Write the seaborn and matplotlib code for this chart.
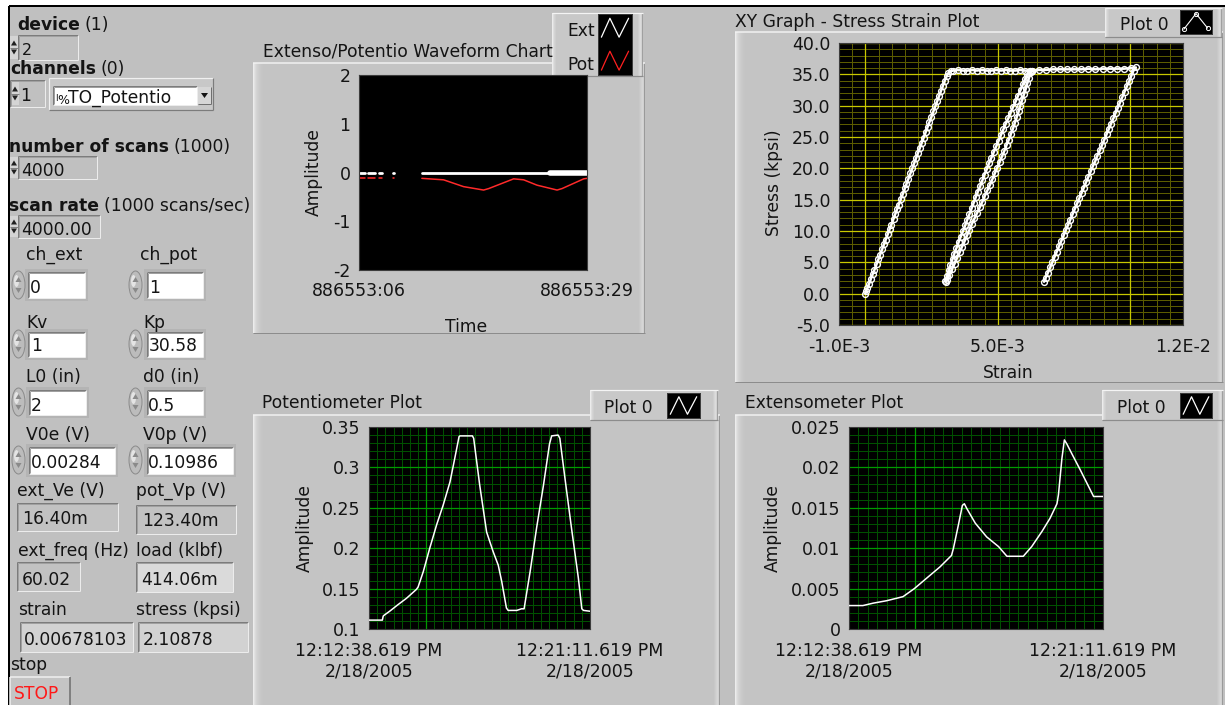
import numpy as np
import pandas as pd
import matplotlib
matplotlib.use("Agg")
import matplotlib.pyplot as plt
from matplotlib.patches import Rectangle, Polygon, Ellipse
from matplotlib.lines import Line2D
from matplotlib.transforms import Bbox
import seaborn as sns

# ------------------------------------------------------------------ data
# Extenso/Potentio waveform chart (seconds on the 886553:xx clock)
wave_time = [6.1, 6.6, 6.94, 7.6, 8.05, 8.3, 9.4, 9.57,
             12.34, 14.53, 16.55, 18.57, 19.08, 21.6, 22.61, 23.96,
             25.98, 26.48, 28.67, 29.0]
wave_seg = [0, 0, 1, 1, 2, 2, 3, 3,
            4, 4, 4, 4, 4, 4, 4, 4, 4, 4, 4, 4]
wave_ext = [-0.015, -0.015, -0.015, -0.015, -0.015, -0.015, -0.015, -0.015,
            -0.015, -0.015, -0.015, -0.015, -0.015, -0.015, -0.015, -0.015,
            -0.015, -0.015, -0.015, -0.015]
wave_pot = [-0.12, -0.12, -0.12, -0.12, -0.12, -0.12, -0.12, -0.12,
            -0.12, -0.15, -0.29, -0.36, -0.33, -0.13, -0.15, -0.26,
            -0.36, -0.33, -0.13, -0.12]
wave_burst_time = [25.3, 29.0]
wave_burst_ext = [-0.015, -0.015]
wave_xticks = [6, 29]
wave_xticklabels = ["886553:06", "886553:29"]
wave_yticks = [-2, -1, 0, 1, 2]

# XY graph - stress (kpsi) vs strain (x 1e-3), in acquisition order
load1_strain = [0.00, 0.03, 0.07, 0.14, 0.20, 0.27, 0.34, 0.42, 0.49, 0.55, 0.63, 0.70,
                0.77, 0.85, 0.92, 0.98, 1.06, 1.13, 1.20, 1.26, 1.34, 1.41, 1.49, 1.55,
                1.62, 1.70, 1.77, 1.84, 1.92, 1.98, 2.06, 2.13, 2.20, 2.28, 2.35, 2.42,
                2.49, 2.57, 2.64, 2.71, 2.79, 2.86, 2.93, 3.00, 3.07, 3.13, 3.22]
load1_stress = [0.0, 0.4, 0.9, 1.6, 2.3, 3.1, 3.8, 4.7, 5.5, 6.2, 7.1, 7.9,
                8.6, 9.5, 10.3, 11.0, 11.9, 12.7, 13.5, 14.2, 15.1, 15.9, 16.8, 17.5,
                18.3, 19.2, 20.0, 20.8, 21.7, 22.4, 23.3, 24.1, 24.9, 25.8, 26.6, 27.4,
                28.2, 29.1, 29.9, 30.7, 31.6, 32.4, 33.2, 34.0, 34.7, 35.2, 35.5]
plat1_strain = [3.32, 3.50, 3.68, 3.85, 4.03, 4.21, 4.40, 4.58, 4.76, 4.93, 5.12, 5.30,
                5.48, 5.66, 5.84, 6.02, 6.20, 6.28]
plat1_stress = [35.6, 35.7, 35.6, 35.6, 35.7, 35.6, 35.7, 35.6, 35.6, 35.7, 35.6, 35.7,
                35.6, 35.6, 35.7, 35.6, 35.6, 35.5]
unload2_strain = [6.24, 6.18, 6.12, 6.06, 5.99, 5.92, 5.85, 5.79, 5.72, 5.65, 5.58, 5.50,
                  5.42, 5.33, 5.25, 5.16, 5.07, 4.98, 4.89, 4.80, 4.71, 4.61, 4.51, 4.42,
                  4.32, 4.22, 4.12, 4.02, 3.93, 3.84, 3.75, 3.65, 3.56, 3.46, 3.37, 3.27,
                  3.17, 3.09, 3.05]
unload2_stress = [35.3, 34.4, 33.6, 32.7, 31.8, 30.9, 30.0, 29.1, 28.2, 27.3, 26.4, 25.5,
                  24.6, 23.7, 22.8, 21.9, 21.0, 20.1, 19.2, 18.3, 17.4, 16.5, 15.6, 14.7,
                  13.8, 12.9, 12.0, 11.1, 10.2, 9.3, 8.4, 7.5, 6.6, 5.7, 4.8, 3.9,
                  3.0, 2.2, 1.9]
reload2_strain = [3.02, 3.08, 3.14, 3.21, 3.29, 3.36, 3.44, 3.52, 3.60, 3.69, 3.77, 3.85,
                  3.93, 4.01, 4.09, 4.17, 4.25, 4.34, 4.42, 4.50, 4.59, 4.67, 4.76, 4.85,
                  4.94, 5.03, 5.12, 5.21, 5.30, 5.40, 5.49, 5.58, 5.68, 5.77, 5.86, 5.95,
                  6.04, 6.11, 6.20]
reload2_stress = [2.0, 2.8, 3.7, 4.6, 5.5, 6.4, 7.3, 8.2, 9.1, 10.0, 10.9, 11.8,
                  12.7, 13.6, 14.5, 15.4, 16.3, 17.2, 18.1, 19.0, 19.9, 20.8, 21.7, 22.6,
                  23.5, 24.4, 25.3, 26.2, 27.1, 28.0, 28.9, 29.8, 30.7, 31.6, 32.5, 33.4,
                  34.3, 35.0, 35.5]
plat2_strain = [6.30, 6.55, 6.81, 7.08, 7.35, 7.61, 7.88, 8.15, 8.42, 8.69, 8.96, 9.23,
                9.50, 9.77, 10.04, 10.22]
plat2_stress = [35.6, 35.7, 35.7, 35.8, 35.8, 35.8, 35.8, 35.8, 35.9, 35.8, 35.9, 35.9,
                35.9, 35.9, 36.0, 36.1]
unload3_strain = [10.13, 10.05, 9.97, 9.88, 9.79, 9.71, 9.62, 9.54, 9.45, 9.37, 9.28, 9.20,
                  9.11, 9.03, 8.94, 8.86, 8.76, 8.69, 8.59, 8.51, 8.42, 8.34, 8.25, 8.17,
                  8.08, 8.00, 7.91, 7.83, 7.74, 7.66, 7.57, 7.49, 7.40, 7.32, 7.23, 7.15,
                  7.06, 6.98, 6.89, 6.81, 6.75]
unload3_stress = [35.6, 34.8, 33.9, 33.1, 32.2, 31.4, 30.5, 29.7, 28.8, 28.0, 27.1, 26.3,
                  25.4, 24.6, 23.7, 22.9, 22.0, 21.2, 20.3, 19.5, 18.6, 17.8, 16.9, 16.1,
                  15.2, 14.4, 13.5, 12.7, 11.8, 11.0, 10.1, 9.3, 8.4, 7.6, 6.7, 5.9,
                  5.0, 4.2, 3.3, 2.5, 1.9]
xy_xticks = [-1.0e-3, 0.0, 5.0e-3, 1.0e-2, 1.2e-2]
xy_xticklabels = ["-1.0E-3", "", "5.0E-3", "", "1.2E-2"]
xy_yticks = [-5, 0, 5, 10, 15, 20, 25, 30, 35, 40]

# Potentiometer / Extensometer plots (seconds after 12:12:38.619 PM)
pot_time = [0, 31, 33, 35, 48, 67, 87, 110, 114, 126, 141, 157, 172, 188, 199, 209,
            211, 240, 243, 257, 273, 288, 300, 308, 319, 323, 343, 354, 360, 374,
            389, 405, 419, 424, 439, 443, 455, 470, 486, 494, 498, 513]
pot_amp = [0.111, 0.111, 0.116, 0.117, 0.122, 0.130, 0.138, 0.149, 0.152, 0.171,
           0.200, 0.229, 0.253, 0.282, 0.311, 0.338, 0.339, 0.339, 0.336, 0.278,
           0.220, 0.196, 0.179, 0.159, 0.126, 0.123, 0.123, 0.125, 0.125, 0.171,
           0.225, 0.278, 0.329, 0.339, 0.340, 0.336, 0.286, 0.225, 0.163, 0.125,
           0.123, 0.122]
ext_time = [0, 28, 49, 76, 109, 132, 157, 184, 207, 211, 221, 229, 233, 238, 255, 278,
            302, 319, 352, 369, 390, 406, 420, 423, 430, 435, 440, 450, 467, 494, 513]
ext_amp = [0.0029, 0.0029, 0.0032, 0.0035, 0.0040, 0.0050, 0.0063, 0.0077, 0.0091, 0.0100,
           0.0129, 0.0153, 0.0155, 0.0149, 0.0131, 0.0114, 0.0102, 0.0090, 0.0090, 0.0102,
           0.0121, 0.0137, 0.0155, 0.0166, 0.0211, 0.0234, 0.0229, 0.0217, 0.0197, 0.0164,
           0.0164]
time_ticks = [0, 133, 513]
time_ticklabels = ["12:12:38.619 PM\n2/18/2005", "", "12:21:11.619 PM\n2/18/2005"]
pot_yticks = [0.1, 0.15, 0.2, 0.25, 0.3, 0.35]
pot_yticklabels = ["0.1", "0.15", "0.2", "0.25", "0.3", "0.35"]
ext_yticks = [0.0, 0.005, 0.01, 0.015, 0.02, 0.025]
ext_yticklabels = ["0", "0.005", "0.01", "0.015", "0.02", "0.025"]

# ------------------------------------------------------------------ setup
W, H = 1225, 705
PANEL = "#c0c0c0"
FRAME = "#c4c4c4"
INK = "#141414"
FS = 12.3
FS_TICK = 12.5

sns.set_style("white")
plt.rcParams["font.family"] = ["DejaVu Sans"]

fig = plt.figure(figsize=(W / 100, H / 100), dpi=100, facecolor="white")
renderer = fig.canvas.get_renderer()


def rect(x0, y0, x1, y1, fc, ec="none", lw=0.0, z=-5):
    p = Rectangle((x0 / W, 1 - y1 / H), (x1 - x0) / W, (y1 - y0) / H,
                  transform=fig.transFigure, facecolor=fc, edgecolor=ec,
                  linewidth=lw, zorder=z)
    fig.add_artist(p)
    return p


def seg(x0, y0, x1, y1, c, lw=1.0, z=-4):
    fig.add_artist(Line2D([x0 / W, x1 / W], [1 - y0 / H, 1 - y1 / H],
                          transform=fig.transFigure, color=c, linewidth=lw * 0.72,
                          zorder=z, solid_capstyle="butt"))


def poly(pts, fc, z=-3):
    fig.add_artist(Polygon([(x / W, 1 - y / H) for x, y in pts], closed=True,
                           transform=fig.transFigure, facecolor=fc, edgecolor="none",
                           zorder=z))


def txt(x, y, s, fs=FS, va="baseline", ha="left", color=INK, **kw):
    return fig.text(x / W, 1 - y / H, s, fontsize=fs, va=va, ha=ha, color=color, **kw)


def blabel(x, y, b, n):
    t = txt(x, y, b, fontweight="bold")
    bb = t.get_window_extent(renderer)
    txt(bb.x1 + 5, y, n)


def sunken(x0, y0, x1, y1, fc):
    rect(x0, y0, x1, y1, fc, z=-4)
    seg(x0, y0, x1, y0, "#7c7c7c", 1, z=-3)
    seg(x0, y0, x0, y1, "#7c7c7c", 1, z=-3)
    seg(x0 + 1, y0 + 1, x1 - 1, y0 + 1, "#a0a0a0", 1, z=-3)
    seg(x0 + 1, y0 + 1, x0 + 1, y1 - 1, "#a0a0a0", 1, z=-3)
    seg(x0, y1, x1, y1, "#ececec", 1, z=-3)
    seg(x1, y0, x1, y1, "#ececec", 1, z=-3)


def white_ctrl(x0, y0, x1, y1):
    rect(x0 - 3, y0 - 3, x1 + 3, y1 + 3, "#b4b4b4", z=-5)
    sunken(x0, y0, x1, y1, "white")


def tiny_spinner(x, y0, y1):
    yc = (y0 + y1) / 2
    rect(x - 1, y0, x + 7, y1, "#d4d4d4", z=-4)
    seg(x - 1, yc, x + 7, yc, "#808080", 1, z=-3)
    poly([(x, yc - 2), (x + 3, yc - 7), (x + 6, yc - 2)], "#202020")
    poly([(x, yc + 2), (x + 3, yc + 7), (x + 6, yc + 2)], "#202020")


def round_spinner(xc, yc):
    fig.add_artist(Ellipse((xc / W, 1 - yc / H), 13 / W, 28 / H, transform=fig.transFigure,
                           facecolor="#bcbcbc", edgecolor="#8a8a8a", linewidth=0.7, zorder=-4))
    fig.add_artist(Ellipse(((xc - 2) / W, 1 - (yc - 4) / H), 5 / W, 12 / H,
                           transform=fig.transFigure, facecolor="#e4e4e4",
                           edgecolor="none", zorder=-3))
    poly([(xc - 3, yc - 3), (xc, yc - 8), (xc + 3, yc - 3)], "#8a8a8a", z=-2)
    poly([(xc - 3, yc + 3), (xc, yc + 8), (xc + 3, yc + 3)], "#8a8a8a", z=-2)


def raised(x0, y0, x1, y1, fc=FRAME, left=10, right=6):
    rect(x0, y0, x1, y1, fc, z=-8)
    grad = ["#ececec", "#e2e2e2", "#dadada", "#d4d4d4", "#d0d0d0", "#cdcdcd",
            "#cacaca", "#c8c8c8", "#c6c6c6", "#c5c5c5"][:left]
    for i, c in enumerate(grad):
        rect(x0 + i, y0, x0 + i + 1, y1, c, z=-7)
    for i, c in enumerate(["#c8c8c8", "#cdcdcd", "#d2d2d2", "#d6d6d6", "#d0d0d0", "#9a9a9a"][-right:]):
        rect(x1 - right + i, y0, x1 - right + i + 1, y1, c, z=-7)
    seg(x0, y0, x1, y0, "#f2f2f2", 1.5, z=-6)
    seg(x0, y1, x1, y1, "#8c8c8c", 1, z=-6)


def legend_box(x0, y0, x1, y1):
    rect(x0, y0, x1, y1, "#c8c8c8", z=-2)
    for i, c in enumerate(["#ececec", "#dedede", "#d4d4d4", "#cecece"]):
        rect(x0 + i, y0, x0 + i + 1, y1, c, z=-1.9)
    for i, c in enumerate(["#cecece", "#d6d6d6", "#dcdcdc", "#d2d2d2", "#a0a0a0"]):
        rect(x1 - 5 + i, y0, x1 - 4 + i, y1, c, z=-1.9)
    seg(x0, y0, x1, y0, "#f4f4f4", 1.2, z=-1.8)
    seg(x0, y1, x1, y1, "#8c8c8c", 1.2, z=-1.8)


def swatch(x0, y0, x1, y1):
    a = fig.add_axes([x0 / W, 1 - y1 / H, (x1 - x0) / W, (y1 - y0) / H], zorder=6)
    a.set_facecolor("black")
    a.set_xticks([])
    a.set_yticks([])
    for s in a.spines.values():
        s.set_color("#3a3a3a")
        s.set_linewidth(0.7)
    a.set_xlim(0, 1)
    a.set_ylim(0, 1)
    return a


def px_axes(x0, y0, x1, y1):
    return fig.add_axes([x0 / W, 1 - y1 / H, (x1 - x0) / W, (y1 - y0) / H], zorder=2)


def style_axes(ax):
    ax.set_facecolor("black")
    for s in ax.spines.values():
        s.set_color("#3c3c3c")
        s.set_linewidth(0.8)
    ax.tick_params(axis="both", which="major", direction="out", length=4.0, width=0.8,
                   color="#202020", labelsize=FS_TICK, labelcolor=INK, pad=2.2)
    ax.tick_params(axis="both", which="minor", direction="out", length=2.2, width=0.8,
                   color="#202020")
    ax.set_xlabel("")
    ax.set_ylabel("")


def grid(ax, xs_minor, xs_major, ys_minor, ys_major, cmin, cmaj):
    for v in xs_minor:
        ax.axvline(v, color=cmin, lw=0.72, zorder=0.5)
    for v in ys_minor:
        ax.axhline(v, color=cmin, lw=0.72, zorder=0.5)
    for v in xs_major:
        ax.axvline(v, color=cmaj, lw=0.9, zorder=0.6)
    for v in ys_major:
        ax.axhline(v, color=cmaj, lw=0.9, zorder=0.6)


# ------------------------------------------------------------------ background panel
rect(9, 6, W + 2, H + 2, PANEL, z=-10)
seg(9, 6, W, 6, "black", 2, z=-9)
seg(9, 6, 9, H, "black", 2, z=-9)

# ------------------------------------------------------------------ left controls
blabel(17, 30, "device", "(1)")
sunken(18, 35, 78, 60, PANEL)
tiny_spinner(11, 36, 59)
txt(22, 55, "2", fs=11.5)

blabel(10, 74, "channels", "(0)")
sunken(10, 80, 45, 107, PANEL)
tiny_spinner(12, 82, 105)
txt(20, 101, "1")

rect(49, 78, 213, 110, "#c8c8c8", z=-5)
seg(49, 78, 213, 78, "#f0f0f0", 1.2, z=-4)
seg(49, 78, 49, 110, "#f0f0f0", 1.2, z=-4)
seg(49, 110, 213, 110, "#7c7c7c", 1.2, z=-4)
seg(213, 78, 213, 110, "#7c7c7c", 1.2, z=-4)
sunken(53, 86, 197, 105, "white")
txt(55, 101, "I", fs=6.5)
txt(57, 104, "%", fs=9)
txt(68, 103, "TO_Potentio")
rect(198, 87, 211, 104, "#d6d6d6", z=-3)
seg(198, 104, 211, 104, "#707070", 1, z=-2)
seg(211, 87, 211, 104, "#707070", 1, z=-2)
poly([(201, 93), (208, 93), (204.5, 98)], "#141414", z=-1)

blabel(9, 152, "number of scans", "(1000)")
sunken(18, 156, 97, 179, PANEL)
tiny_spinner(11, 157, 178)
txt(21, 176, "4000")

blabel(9, 211, "scan rate", "(1000 scans/sec)")
sunken(18, 215, 100, 238, PANEL)
tiny_spinner(11, 216, 237)
txt(21, 235, "4000.00")

txt(26, 260, "ch_ext")
txt(140, 260, "ch_pot")
white_ctrl(28, 272, 85, 298)
white_ctrl(147, 272, 203, 298)
round_spinner(18.5, 285)
round_spinner(135.5, 285)
txt(30, 293, "0")
txt(149, 293, "1")

txt(26, 328, "Kv")
txt(143, 328, "Kp")
white_ctrl(28, 332, 85, 357)
white_ctrl(147, 332, 203, 357)
round_spinner(18.5, 344)
round_spinner(135.5, 344)
txt(31, 351, "1")
txt(149, 351, "30.58")

txt(26, 382, "L0 (in)")
txt(143, 382, "d0 (in)")
white_ctrl(29, 390, 86, 415)
white_ctrl(147, 390, 203, 415)
round_spinner(18.5, 402)
round_spinner(135.5, 402)
txt(31, 411, "2")
txt(148, 411, "0.5")

txt(26, 440, "V0e (V)")
txt(143, 440, "V0p (V)")
white_ctrl(29, 447, 115, 474)
white_ctrl(147, 447, 233, 474)
round_spinner(18.5, 460)
round_spinner(135.5, 460)
txt(31, 468, "0.00284")
txt(148, 468, "0.10986")

txt(17, 496, "ext_Ve (V)")
txt(136, 496, "pot_Vp (V)")
sunken(17, 503, 118, 531, "#c2c2c2")
sunken(136, 505, 236, 534, "#c2c2c2")
txt(22, 524, "16.40m")
txt(142, 526, "123.40m")

txt(18, 556, "ext_freq (Hz)")
txt(136, 556, "load (klbf)")
sunken(17, 562, 80, 591, "#c2c2c2")
sunken(136, 562, 233, 592, "#dadada")
txt(22, 585, "60.02")
txt(141, 585, "414.06m")

txt(18, 615, "strain")
txt(136, 615, "stress (kpsi)")
sunken(20, 622, 133, 652, "#d2d2d2")
sunken(138, 622, 248, 652, "#d2d2d2")
t_strain = txt(24, 645, "0.00678103")
t_strain.set_clip_box(Bbox.from_extents(21, H - 651, 132, H - 623))
t_strain.set_clip_on(True)
txt(143, 645, "2.10878")

txt(10, 670, "stop")
rect(10, 677, 70, 706, "#c4c4c4", z=-5)
seg(10, 677, 70, 677, "#f0f0f0", 1.5, z=-4)
seg(10, 677, 10, 706, "#f0f0f0", 1.5, z=-4)
seg(70, 677, 70, 706, "#6c6c6c", 1.5, z=-4)
txt(14, 699, "STOP", color="#ff1818")

# ------------------------------------------------------------------ frames & titles
raised(253, 63, 645, 333)
raised(735, 32, 1223, 382)
raised(253, 415, 720, 712)
raised(735, 415, 1223, 712)

txt(263, 56, "Extenso/Potentio Waveform Chart")
txt(735, 27, "XY Graph - Stress Strain Plot")
txt(262, 408, "Potentiometer Plot")
txt(745, 408, "Extensometer Plot")

# legends
legend_box(552, 13, 643, 76)
txt(567, 36, "Ext")
txt(567, 70, "Pot")
sw = swatch(598, 14, 632, 75)
sw.plot([0.1, 0.35, 0.62, 0.9], [0.62, 0.93, 0.62, 0.93], color="white", lw=0.9)
sw.plot([0.1, 0.35, 0.62, 0.9], [0.08, 0.39, 0.08, 0.39], color="#ff2020", lw=0.9)

legend_box(1105, 8, 1222, 37)
txt(1120, 30, "Plot 0")
sw = swatch(1180, 10, 1212, 34)
sw.plot([0.12, 0.5, 0.86], [0.2, 0.85, 0.25], color="white", lw=0.8, marker="o",
        markersize=3, markerfacecolor="none", markeredgecolor="white", markeredgewidth=0.7)

legend_box(590, 390, 718, 420)
txt(604, 413, "Plot 0")
sw = swatch(667, 393, 700, 418)
sw.plot([0.1, 0.36, 0.62, 0.9], [0.15, 0.85, 0.15, 0.85], color="white", lw=0.9)

legend_box(1102, 390, 1223, 420)
txt(1117, 413, "Plot 0")
sw = swatch(1180, 393, 1212, 418)
sw.plot([0.1, 0.36, 0.62, 0.9], [0.15, 0.85, 0.15, 0.85], color="white", lw=0.9)

# ------------------------------------------------------------------ waveform chart
ax_w = px_axes(359, 75, 587, 270)
wave_df = pd.DataFrame({"t": wave_time, "seg": wave_seg, "ext": wave_ext, "pot": wave_pot})
sns.lineplot(data=wave_df, x="t", y="pot", units="seg", estimator=None, sort=False,
             color="#ff2a2a", lw=1.1, legend=False, ax=ax_w)
sns.lineplot(data=wave_df, x="t", y="ext", units="seg", estimator=None, sort=False,
             color="white", lw=2.0, legend=False, ax=ax_w)
sns.lineplot(x=wave_burst_time, y=wave_burst_ext, estimator=None, sort=False,
             color="white", lw=4.0, legend=False, ax=ax_w)
style_axes(ax_w)
ax_w.set_xlim(6, 29)
ax_w.set_ylim(-2, 2)
ax_w.set_xticks(wave_xticks, wave_xticklabels)
ax_w.set_yticks(wave_yticks, [str(v) for v in wave_yticks])
ax_w.tick_params(axis="x", length=5.0, pad=4)
txt(314, 172, "Amplitude", va="center", ha="center", rotation=90)
txt(466, 332, "Time", ha="center")

# ------------------------------------------------------------------ XY graph
ax_xy = px_axes(839, 43, 1183, 325)
grid(ax_xy,
     [v * 1e-3 for v in np.arange(-0.5, 12.0, 0.5)], [0.0, 5.0e-3, 1.0e-2],
     list(np.arange(-4, 40, 1)), list(np.arange(-5, 41, 5)),
     "#5c5c00", "#c8c800")
strain_milli = load1_strain + plat1_strain + unload2_strain + reload2_strain + plat2_strain + unload3_strain
stress_kpsi = load1_stress + plat1_stress + unload2_stress + reload2_stress + plat2_stress + unload3_stress
xy_df = pd.DataFrame({"strain": np.array(strain_milli) * 1e-3, "stress": stress_kpsi})
sns.lineplot(data=xy_df, x="strain", y="stress", estimator=None, sort=False,
             color="white", lw=1.8, marker="o", markersize=4.2, markerfacecolor="none",
             markeredgecolor="white", markeredgewidth=1.0, legend=False, ax=ax_xy, zorder=3)
style_axes(ax_xy)
ax_xy.set_xlim(-1.0e-3, 1.2e-2)
ax_xy.set_ylim(-5, 40)
ax_xy.set_xticks(xy_xticks, xy_xticklabels)
ax_xy.set_xticks([v * 1e-3 for v in np.arange(-1.0, 12.01, 0.5)], minor=True)
ax_xy.set_yticks(xy_yticks, [f"{v:.1f}" for v in xy_yticks])
ax_xy.tick_params(axis="x", which="major", length=5.5, pad=4)
txt(774, 183, "Stress (kpsi)", va="center", ha="center", rotation=90)
txt(1008, 378, "Strain", ha="center")

# ------------------------------------------------------------------ potentiometer plot
time_minor = list(np.arange(19, 513, 19))
ax_p = px_axes(369, 427, 590, 629)
grid(ax_p, time_minor, [133], list(np.arange(0.11, 0.35, 0.01)),
     [0.15, 0.2, 0.25, 0.3], "#005000", "#009a00")
sns.lineplot(x=pot_time, y=pot_amp, estimator=None, sort=False, color="white",
             lw=1.1, legend=False, ax=ax_p, zorder=3)
style_axes(ax_p)
ax_p.set_xlim(0, 513)
ax_p.set_ylim(0.1, 0.35)
ax_p.set_xticks(time_ticks, time_ticklabels)
ax_p.set_yticks(pot_yticks, pot_yticklabels)
ax_p.tick_params(axis="x", length=4.0, pad=5)
txt(305, 528, "Amplitude", va="center", ha="center", rotation=90)

# ------------------------------------------------------------------ extensometer plot
ax_e = px_axes(849, 427, 1103, 629)
grid(ax_e, time_minor, [133], list(np.arange(0.001, 0.025, 0.001)),
     [0.005, 0.01, 0.015, 0.02], "#005000", "#009a00")
sns.lineplot(x=ext_time, y=ext_amp, estimator=None, sort=False, color="white",
             lw=1.1, legend=False, ax=ax_e, zorder=3)
style_axes(ax_e)
ax_e.set_xlim(0, 513)
ax_e.set_ylim(0, 0.025)
ax_e.set_xticks(time_ticks, time_ticklabels)
ax_e.set_yticks(ext_yticks, ext_yticklabels)
ax_e.tick_params(axis="x", length=4.0, pad=5)
txt(773, 528, "Amplitude", va="center", ha="center", rotation=90)

fig.savefig("out.png", dpi=100, facecolor="white")
